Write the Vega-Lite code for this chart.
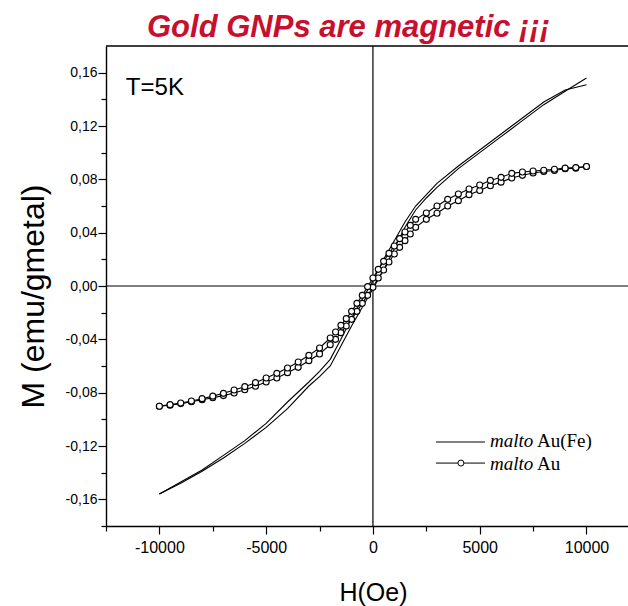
{
  "$schema": "https://vega.github.io/schema/vega-lite/v6.json",
  "width": 522,
  "height": 480,
  "autosize": {"type": "none"},
  "padding": {"left": 106, "top": 46, "right": 0, "bottom": 80},
  "background": "white",
  "config": {"view": {"stroke": null}, "font": "Liberation Sans"},
  "title": {
    "text": "Gold GNPs are magnetic ¡¡¡",
    "font": "Liberation Sans",
    "fontSize": 31,
    "fontStyle": "italic",
    "fontWeight": "bold",
    "color": "#c8102e",
    "anchor": "start",
    "dx": 130,
    "dy": 34,
    "baseline": "alphabetic",
    "offset": 11
  },
  "data": {"values": [{}]},
  "datasets": {
    "aufe": [
      {"H": -10000, "M": -0.156, "branch": "up"},
      {"H": -9000, "M": -0.148, "branch": "up"},
      {"H": -8000, "M": -0.139, "branch": "up"},
      {"H": -7000, "M": -0.129, "branch": "up"},
      {"H": -6000, "M": -0.118, "branch": "up"},
      {"H": -5000, "M": -0.106, "branch": "up"},
      {"H": -4000, "M": -0.092, "branch": "up"},
      {"H": -3000, "M": -0.075, "branch": "up"},
      {"H": -2500, "M": -0.068, "branch": "up"},
      {"H": -2000, "M": -0.060, "branch": "up"},
      {"H": -1500, "M": -0.045, "branch": "up"},
      {"H": -1000, "M": -0.030, "branch": "up"},
      {"H": -500, "M": -0.016, "branch": "up"},
      {"H": 0, "M": -0.002, "branch": "up"},
      {"H": 500, "M": 0.012, "branch": "up"},
      {"H": 1000, "M": 0.028, "branch": "up"},
      {"H": 1500, "M": 0.044, "branch": "up"},
      {"H": 2000, "M": 0.057, "branch": "up"},
      {"H": 2500, "M": 0.066, "branch": "up"},
      {"H": 3000, "M": 0.074, "branch": "up"},
      {"H": 4000, "M": 0.088, "branch": "up"},
      {"H": 5000, "M": 0.100, "branch": "up"},
      {"H": 6000, "M": 0.112, "branch": "up"},
      {"H": 7000, "M": 0.124, "branch": "up"},
      {"H": 8000, "M": 0.136, "branch": "up"},
      {"H": 9000, "M": 0.146, "branch": "up"},
      {"H": 10000, "M": 0.156, "branch": "up"},
      {"H": 10000, "M": 0.151, "branch": "down"},
      {"H": 9000, "M": 0.147, "branch": "down"},
      {"H": 8000, "M": 0.138, "branch": "down"},
      {"H": 7000, "M": 0.126, "branch": "down"},
      {"H": 6000, "M": 0.114, "branch": "down"},
      {"H": 5000, "M": 0.102, "branch": "down"},
      {"H": 4000, "M": 0.090, "branch": "down"},
      {"H": 3000, "M": 0.077, "branch": "down"},
      {"H": 2000, "M": 0.060, "branch": "down"},
      {"H": 1500, "M": 0.048, "branch": "down"},
      {"H": 1000, "M": 0.034, "branch": "down"},
      {"H": 500, "M": 0.020, "branch": "down"},
      {"H": 0, "M": 0.004, "branch": "down"},
      {"H": -500, "M": -0.010, "branch": "down"},
      {"H": -1000, "M": -0.024, "branch": "down"},
      {"H": -1500, "M": -0.040, "branch": "down"},
      {"H": -2000, "M": -0.055, "branch": "down"},
      {"H": -2500, "M": -0.064, "branch": "down"},
      {"H": -3000, "M": -0.072, "branch": "down"},
      {"H": -4000, "M": -0.087, "branch": "down"},
      {"H": -5000, "M": -0.103, "branch": "down"},
      {"H": -6000, "M": -0.116, "branch": "down"},
      {"H": -7000, "M": -0.127, "branch": "down"},
      {"H": -8000, "M": -0.138, "branch": "down"},
      {"H": -9000, "M": -0.147, "branch": "down"},
      {"H": -10000, "M": -0.156, "branch": "down"}
    ],
    "au": [
      {"H": -10000, "M": -0.0902, "branch": "up"},
      {"H": -9500, "M": -0.0894, "branch": "up"},
      {"H": -9000, "M": -0.0882, "branch": "up"},
      {"H": -8500, "M": -0.0868, "branch": "up"},
      {"H": -8000, "M": -0.0853, "branch": "up"},
      {"H": -7500, "M": -0.0838, "branch": "up"},
      {"H": -7000, "M": -0.0822, "branch": "up"},
      {"H": -6500, "M": -0.0802, "branch": "up"},
      {"H": -6000, "M": -0.0778, "branch": "up"},
      {"H": -5500, "M": -0.0752, "branch": "up"},
      {"H": -5000, "M": -0.0720, "branch": "up"},
      {"H": -4500, "M": -0.0690, "branch": "up"},
      {"H": -4000, "M": -0.0650, "branch": "up"},
      {"H": -3500, "M": -0.0610, "branch": "up"},
      {"H": -3000, "M": -0.0560, "branch": "up"},
      {"H": -2500, "M": -0.0510, "branch": "up"},
      {"H": -2000, "M": -0.0440, "branch": "up"},
      {"H": -1750, "M": -0.0400, "branch": "up"},
      {"H": -1500, "M": -0.0350, "branch": "up"},
      {"H": -1250, "M": -0.0300, "branch": "up"},
      {"H": -1000, "M": -0.0250, "branch": "up"},
      {"H": -750, "M": -0.0190, "branch": "up"},
      {"H": -500, "M": -0.0130, "branch": "up"},
      {"H": -250, "M": -0.0070, "branch": "up"},
      {"H": 0, "M": -0.0010, "branch": "up"},
      {"H": 250, "M": 0.0060, "branch": "up"},
      {"H": 500, "M": 0.0120, "branch": "up"},
      {"H": 750, "M": 0.0180, "branch": "up"},
      {"H": 1000, "M": 0.0240, "branch": "up"},
      {"H": 1250, "M": 0.0290, "branch": "up"},
      {"H": 1500, "M": 0.0340, "branch": "up"},
      {"H": 1750, "M": 0.0390, "branch": "up"},
      {"H": 2000, "M": 0.0440, "branch": "up"},
      {"H": 2500, "M": 0.0500, "branch": "up"},
      {"H": 3000, "M": 0.0546, "branch": "up"},
      {"H": 3500, "M": 0.0600, "branch": "up"},
      {"H": 4000, "M": 0.0640, "branch": "up"},
      {"H": 4500, "M": 0.0685, "branch": "up"},
      {"H": 5000, "M": 0.0716, "branch": "up"},
      {"H": 5500, "M": 0.0752, "branch": "up"},
      {"H": 6000, "M": 0.0779, "branch": "up"},
      {"H": 6500, "M": 0.0810, "branch": "up"},
      {"H": 7000, "M": 0.0830, "branch": "up"},
      {"H": 7500, "M": 0.0847, "branch": "up"},
      {"H": 8000, "M": 0.0859, "branch": "up"},
      {"H": 8500, "M": 0.0866, "branch": "up"},
      {"H": 9000, "M": 0.0879, "branch": "up"},
      {"H": 9500, "M": 0.0884, "branch": "up"},
      {"H": 10000, "M": 0.0896, "branch": "up"},
      {"H": 10000, "M": 0.0896, "branch": "down"},
      {"H": 9500, "M": 0.0888, "branch": "down"},
      {"H": 9000, "M": 0.0884, "branch": "down"},
      {"H": 8500, "M": 0.0876, "branch": "down"},
      {"H": 8000, "M": 0.0868, "branch": "down"},
      {"H": 7500, "M": 0.0862, "branch": "down"},
      {"H": 7000, "M": 0.0855, "branch": "down"},
      {"H": 6500, "M": 0.0845, "branch": "down"},
      {"H": 6000, "M": 0.0815, "branch": "down"},
      {"H": 5500, "M": 0.0792, "branch": "down"},
      {"H": 5000, "M": 0.0758, "branch": "down"},
      {"H": 4500, "M": 0.0728, "branch": "down"},
      {"H": 4000, "M": 0.0690, "branch": "down"},
      {"H": 3500, "M": 0.0650, "branch": "down"},
      {"H": 3000, "M": 0.0600, "branch": "down"},
      {"H": 2500, "M": 0.0548, "branch": "down"},
      {"H": 2000, "M": 0.0500, "branch": "down"},
      {"H": 1750, "M": 0.0455, "branch": "down"},
      {"H": 1500, "M": 0.0405, "branch": "down"},
      {"H": 1250, "M": 0.0355, "branch": "down"},
      {"H": 1000, "M": 0.0300, "branch": "down"},
      {"H": 750, "M": 0.0245, "branch": "down"},
      {"H": 500, "M": 0.0185, "branch": "down"},
      {"H": 250, "M": 0.0125, "branch": "down"},
      {"H": 0, "M": 0.0060, "branch": "down"},
      {"H": -250, "M": -0.0005, "branch": "down"},
      {"H": -500, "M": -0.0070, "branch": "down"},
      {"H": -750, "M": -0.0130, "branch": "down"},
      {"H": -1000, "M": -0.0190, "branch": "down"},
      {"H": -1250, "M": -0.0245, "branch": "down"},
      {"H": -1500, "M": -0.0295, "branch": "down"},
      {"H": -1750, "M": -0.0345, "branch": "down"},
      {"H": -2000, "M": -0.0390, "branch": "down"},
      {"H": -2500, "M": -0.0465, "branch": "down"},
      {"H": -3000, "M": -0.0520, "branch": "down"},
      {"H": -3500, "M": -0.0570, "branch": "down"},
      {"H": -4000, "M": -0.0615, "branch": "down"},
      {"H": -4500, "M": -0.0655, "branch": "down"},
      {"H": -5000, "M": -0.0690, "branch": "down"},
      {"H": -5500, "M": -0.0725, "branch": "down"},
      {"H": -6000, "M": -0.0755, "branch": "down"},
      {"H": -6500, "M": -0.0780, "branch": "down"},
      {"H": -7000, "M": -0.0805, "branch": "down"},
      {"H": -7500, "M": -0.0826, "branch": "down"},
      {"H": -8000, "M": -0.0845, "branch": "down"},
      {"H": -8500, "M": -0.0862, "branch": "down"},
      {"H": -9000, "M": -0.0878, "branch": "down"},
      {"H": -9500, "M": -0.0890, "branch": "down"},
      {"H": -10000, "M": -0.0902, "branch": "down"}
    ]
  },
  "layer": [
    {
      "mark": {"type": "rule", "color": "black", "strokeWidth": 1.2},
      "encoding": {
        "x": {
          "datum": 0,
          "type": "quantitative",
          "scale": {"domain": [-12500, 11944], "nice": false, "zero": false},
          "axis": {
            "orient": "bottom",
            "values": [-10000, -5000, 0, 5000, 10000],
            "labelExpr": "'' + datum.value",
            "grid": false,
            "tickSize": 8,
            "tickColor": "black",
            "tickWidth": 1.2,
            "domainColor": "black",
            "domainWidth": 1.4,
            "labelFont": "Liberation Sans",
            "labelFontSize": 16,
            "labelColor": "black",
            "labelPadding": 5,
            "labelFlush": false,
            "labelOverlap": false,
            "title": "H(Oe)",
            "titleFont": "Liberation Sans",
            "titleFontSize": 25,
            "titleFontWeight": "normal",
            "titleColor": "black",
            "titleX": 267,
            "titleY": 74,
            "titleAlign": "center",
            "titleBaseline": "alphabetic"
          }
        }
      }
    },
    {
      "mark": {"type": "rule", "color": "black", "strokeWidth": 1.2},
      "encoding": {
        "y": {
          "datum": 0,
          "type": "quantitative",
          "scale": {"domain": [-0.18, 0.18], "nice": false, "zero": false},
          "axis": {
            "orient": "left",
            "values": [-0.16, -0.12, -0.08, -0.04, 0, 0.04, 0.08, 0.12, 0.16],
            "labelExpr": "replace(replace(format(datum.value, '.2f'), '.', ','), '\u2212', '-')",
            "grid": false,
            "tickSize": 8,
            "tickColor": "black",
            "tickWidth": 1.2,
            "domainColor": "black",
            "domainWidth": 1.4,
            "labelFont": "Liberation Sans",
            "labelFontSize": 14,
            "labelColor": "black",
            "labelPadding": 1,
            "labelFlush": false,
            "labelOverlap": false,
            "title": "M (emu/gmetal)",
            "titleFont": "Liberation Sans",
            "titleFontSize": 32,
            "titleFontWeight": "normal",
            "titleColor": "black",
            "titleX": -63,
            "titleY": 250,
            "titleAngle": -90,
            "titleAlign": "center",
            "titleBaseline": "alphabetic"
          }
        }
      }
    },
    {
      "mark": {"type": "rule", "color": "black", "strokeWidth": 1.4},
      "encoding": {"y": {"datum": 0.18, "type": "quantitative", "axis": null}}
    },
    {
      "data": {"name": "aufe"},
      "mark": {"type": "line", "color": "black", "strokeWidth": 1.1},
      "encoding": {
        "x": {
          "field": "H",
          "type": "quantitative",
          "axis": {
            "orient": "bottom",
            "values": [-12500, -7500, -2500, 2500, 7500],
            "labels": false,
            "grid": false,
            "domain": false,
            "tickSize": 5,
            "tickColor": "black",
            "tickWidth": 1.2,
            "title": null
          }
        },
        "y": {
          "field": "M",
          "type": "quantitative",
          "axis": {
            "orient": "left",
            "values": [-0.18, -0.14, -0.1, -0.06, -0.02, 0.02, 0.06, 0.1, 0.14],
            "labels": false,
            "grid": false,
            "domain": false,
            "tickSize": 5,
            "tickColor": "black",
            "tickWidth": 1.2,
            "title": null
          }
        },
        "detail": {"field": "branch"}
      }
    },
    {
      "data": {"name": "au"},
      "mark": {"type": "line", "color": "black", "strokeWidth": 1.1},
      "encoding": {
        "x": {"field": "H", "type": "quantitative", "axis": null},
        "y": {"field": "M", "type": "quantitative", "axis": null},
        "detail": {"field": "branch"}
      }
    },
    {
      "data": {"name": "au"},
      "mark": {"type": "point", "shape": "circle", "filled": true, "fill": "white", "stroke": "black", "strokeWidth": 1.1, "size": 36, "opacity": 1},
      "encoding": {
        "x": {"field": "H", "type": "quantitative", "axis": null},
        "y": {"field": "M", "type": "quantitative", "axis": null}
      }
    },
    {
      "mark": {"type": "text", "text": "T=5K", "font": "Liberation Sans", "fontSize": 24, "align": "left", "baseline": "alphabetic", "color": "black"},
      "encoding": {
        "x": {"datum": -11570, "type": "quantitative", "axis": null},
        "y": {"datum": 0.1435, "type": "quantitative", "axis": null}
      }
    },
    {
      "mark": {"type": "rule", "color": "black", "strokeWidth": 1},
      "encoding": {
        "x": {"datum": 2950, "type": "quantitative", "axis": null},
        "x2": {"datum": 5250},
        "y": {"datum": -0.117, "type": "quantitative", "axis": null}
      }
    },
    {
      "mark": {"type": "rule", "color": "black", "strokeWidth": 1},
      "encoding": {
        "x": {"datum": 2950, "type": "quantitative", "axis": null},
        "x2": {"datum": 5250},
        "y": {"datum": -0.1328, "type": "quantitative", "axis": null}
      }
    },
    {
      "mark": {"type": "point", "shape": "circle", "filled": true, "fill": "white", "stroke": "black", "strokeWidth": 1, "size": 36, "opacity": 1},
      "encoding": {
        "x": {"datum": 4120, "type": "quantitative", "axis": null},
        "y": {"datum": -0.1328, "type": "quantitative", "axis": null}
      }
    },
    {
      "mark": {"type": "text", "text": "malto", "font": "Liberation Serif", "fontSize": 19, "fontStyle": "italic", "align": "left", "baseline": "alphabetic", "color": "black"},
      "encoding": {
        "x": {"datum": 5480, "type": "quantitative", "axis": null},
        "y": {"datum": -0.121, "type": "quantitative", "axis": null}
      }
    },
    {
      "mark": {"type": "text", "text": "Au(Fe)", "font": "Liberation Serif", "fontSize": 19, "align": "left", "baseline": "alphabetic", "color": "black"},
      "encoding": {
        "x": {"datum": 7680, "type": "quantitative", "axis": null},
        "y": {"datum": -0.121, "type": "quantitative", "axis": null}
      }
    },
    {
      "mark": {"type": "text", "text": "malto", "font": "Liberation Serif", "fontSize": 19, "fontStyle": "italic", "align": "left", "baseline": "alphabetic", "color": "black"},
      "encoding": {
        "x": {"datum": 5480, "type": "quantitative", "axis": null},
        "y": {"datum": -0.1382, "type": "quantitative", "axis": null}
      }
    },
    {
      "mark": {"type": "text", "text": "Au", "font": "Liberation Serif", "fontSize": 19, "align": "left", "baseline": "alphabetic", "color": "black"},
      "encoding": {
        "x": {"datum": 7680, "type": "quantitative", "axis": null},
        "y": {"datum": -0.1382, "type": "quantitative", "axis": null}
      }
    }
  ],
  "resolve": {"axis": {"x": "independent", "y": "independent"}}
}
